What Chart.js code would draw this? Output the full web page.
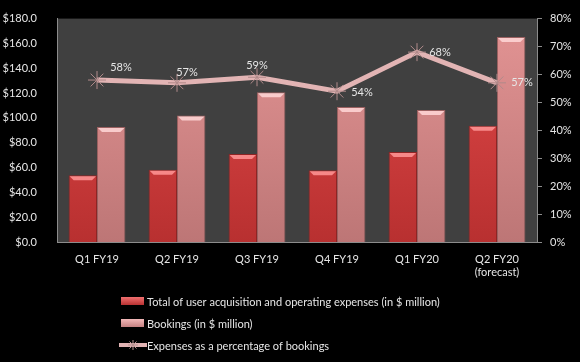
<!DOCTYPE html>
<html lang="en">
<head>
    <meta charset="UTF-8">
    <title>Expenses vs Bookings</title>
    <script src="https://cdn.jsdelivr.net/npm/chart.js"></script>
    <style>
        html, body {
            margin: 0;
            padding: 0;
            background: #000;
        }
        #wrap {
            width: 580px;
            height: 362px;
        }
    </style>
</head>
<body>
    <div id="wrap"><canvas id="chart" width="580" height="362"></canvas></div>

    <script>
        // Chart data
        const quarters = ['Q1 FY19', 'Q2 FY19', 'Q3 FY19', 'Q4 FY19', 'Q1 FY20', ['Q2 FY20', '(forecast)']];
        const expenses = [53.7, 58.2, 71.0, 57.8, 72.6, 93.7];
        const bookings = [92.6, 102.0, 120.7, 108.7, 106.3, 165.2];
        const expensePct = [58, 57, 59, 54, 68, 57];
        const dollarTicks = [0, 20, 40, 60, 80, 100, 120, 140, 160, 180];
        const pctTicks = [0, 10, 20, 30, 40, 50, 60, 70, 80];

        const seriesNames = [
            'Total of user acquisition and operating expenses (in $ million)',
            'Bookings (in $ million)',
            'Expenses as a percentage of bookings'
        ];

        const FONT = 'Lato, "Liberation Sans", sans-serif';
        const TEXT = '#e6e6e6';
        const AXIS = '#8c8c8c';

        // vertical gradient for bars
        function barFill(top, bottom) {
            return function(context) {
                const area = context.chart.chartArea;
                if (!area) return top;
                const g = context.chart.ctx.createLinearGradient(0, area.top, 0, area.bottom);
                g.addColorStop(0, top);
                g.addColorStop(1, bottom);
                return g;
            };
        }

        // plot background
        const plotBg = {
            id: 'plotBg',
            beforeDraw(chart) {
                const { ctx, chartArea: a } = chart;
                ctx.save();
                ctx.fillStyle = '#000';
                ctx.fillRect(0, 0, chart.width, chart.height);
                ctx.fillStyle = '#404040';
                ctx.fillRect(a.left, a.top, a.right - a.left, a.bottom - a.top);
                ctx.restore();
            }
        };

        // light bevel on top of each bar
        const bevel = {
            id: 'bevel',
            afterDatasetsDraw(chart) {
                const ctx = chart.ctx;
                [0, 1].forEach(di => {
                    const meta = chart.getDatasetMeta(di);
                    const light = di === 0 ? 'rgba(255,150,150,0.85)' : 'rgba(255,215,215,0.85)';
                    meta.data.forEach(bar => {
                        const w = bar.width, l = bar.x - w / 2, r = bar.x + w / 2, t = bar.y;
                        ctx.save();
                        ctx.fillStyle = light;
                        ctx.beginPath();
                        ctx.moveTo(l + 1, t + 1);
                        ctx.lineTo(r - 1, t + 1);
                        ctx.lineTo(r - 5, t + 5);
                        ctx.lineTo(l + 5, t + 5);
                        ctx.closePath();
                        ctx.fill();
                        ctx.restore();
                    });
                });
            }
        };

        // percentage labels next to the line points
        const labelOffsets = [[24, -13], [10, -10], [0, -12], [25, 1], [23, 0], [25, 0]];
        const pctLabels = {
            id: 'pctLabels',
            afterDatasetsDraw(chart) {
                const ctx = chart.ctx;
                const meta = chart.getDatasetMeta(2);
                ctx.save();
                ctx.font = '11px ' + FONT;
                ctx.fillStyle = TEXT;
                ctx.textAlign = 'center';
                ctx.textBaseline = 'middle';
                meta.data.forEach((pt, i) => {
                    const o = labelOffsets[i];
                    ctx.fillText(expensePct[i] + '%', pt.x + o[0], pt.y + o[1]);
                });
                ctx.restore();
            }
        };

        // stacked legend under the chart
        const stackedLegend = {
            id: 'stackedLegend',
            afterDraw(chart) {
                const ctx = chart.ctx;
                const x0 = 121, ys = [301, 323, 345];
                ctx.save();
                ctx.font = '11px ' + FONT;
                ctx.fillStyle = TEXT;
                ctx.textBaseline = 'middle';
                ctx.textAlign = 'left';

                // expenses swatch
                let g = ctx.createLinearGradient(0, ys[0] - 4, 0, ys[0] + 4);
                g.addColorStop(0, '#f07070');
                g.addColorStop(1, '#b83232');
                ctx.fillStyle = g;
                ctx.fillRect(x0, ys[0] - 4, 23, 8);
                // bookings swatch
                g = ctx.createLinearGradient(0, ys[1] - 4, 0, ys[1] + 4);
                g.addColorStop(0, '#f2b8b8');
                g.addColorStop(1, '#c48080');
                ctx.fillStyle = g;
                ctx.fillRect(x0, ys[1] - 4, 23, 8);
                // line swatch
                ctx.strokeStyle = '#e2b4b4';
                ctx.lineWidth = 4;
                ctx.beginPath();
                ctx.moveTo(x0 - 2, ys[2]);
                ctx.lineTo(x0 + 26, ys[2]);
                ctx.stroke();
                ctx.strokeStyle = '#b89090';
                ctx.lineWidth = 1;
                const cx = x0 + 12, cy = ys[2];
                for (let k = 0; k < 4; k++) {
                    const a = k * Math.PI / 4;
                    ctx.beginPath();
                    ctx.moveTo(cx - 5 * Math.cos(a), cy - 5 * Math.sin(a));
                    ctx.lineTo(cx + 5 * Math.cos(a), cy + 5 * Math.sin(a));
                    ctx.stroke();
                }

                ctx.fillStyle = TEXT;
                seriesNames.forEach((name, i) => ctx.fillText(name, 147, ys[i] + 1));
                ctx.restore();
            }
        };

        new Chart(document.getElementById('chart').getContext('2d'), {
            data: {
                labels: quarters,
                datasets: [
                    {
                        type: 'bar',
                        label: seriesNames[0],
                        data: expenses,
                        backgroundColor: barFill('#e24a4a', '#b83030'),
                        borderColor: '#8e2424',
                        borderWidth: 1,
                        yAxisID: 'y',
                        order: 1
                    },
                    {
                        type: 'bar',
                        label: seriesNames[1],
                        data: bookings,
                        backgroundColor: barFill('#e39494', '#bd7676'),
                        borderColor: '#9a6060',
                        borderWidth: 1,
                        yAxisID: 'y',
                        order: 1
                    },
                    {
                        type: 'line',
                        label: seriesNames[2],
                        data: expensePct,
                        borderColor: '#e2b4b4',
                        borderWidth: 5,
                        pointStyle: 'star',
                        pointRadius: 9,
                        pointBorderColor: '#b08a8a',
                        pointBorderWidth: 1,
                        pointBackgroundColor: '#b08a8a',
                        tension: 0,
                        yAxisID: 'y1',
                        order: 0
                    }
                ]
            },
            options: {
                responsive: false,
                animation: false,
                layout: { padding: { top: 10, left: 0, right: 0, bottom: 0 } },
                datasets: {
                    bar: { categoryPercentage: 0.71, barPercentage: 1 }
                },
                plugins: {
                    legend: { display: false },
                    tooltip: { enabled: false }
                },
                scales: {
                    x: {
                        grid: { display: false },
                        border: { color: AXIS, width: 1 },
                        ticks: {
                            color: TEXT,
                            font: { family: FONT, size: 11 },
                            maxRotation: 0,
                            padding: 3
                        },
                        afterFit(scale) { scale.height = 120; }
                    },
                    y: {
                        position: 'left',
                        min: 0,
                        max: 180,
                        afterBuildTicks(scale) { scale.ticks = dollarTicks.map(v => ({ value: v })); },
                        grid: { display: false },
                        border: { color: AXIS, width: 1 },
                        ticks: {
                            color: TEXT,
                            font: { family: FONT, size: 11 },
                            padding: 12,
                            callback: v => '$' + v.toFixed(1)
                        },
                        afterFit(scale) { scale.width = 57; }
                    },
                    y1: {
                        position: 'right',
                        min: 0,
                        max: 80,
                        afterBuildTicks(scale) { scale.ticks = pctTicks.map(v => ({ value: v })); },
                        grid: {
                            drawOnChartArea: false,
                            color: AXIS,
                            tickLength: 5
                        },
                        border: { color: AXIS, width: 1 },
                        ticks: {
                            color: TEXT,
                            font: { family: FONT, size: 11 },
                            padding: 8,
                            callback: v => v + '%'
                        },
                        afterFit(scale) { scale.width = 43; }
                    }
                }
            },
            plugins: [plotBg, bevel, pctLabels, stackedLegend]
        });
    </script>
</body>
</html>
